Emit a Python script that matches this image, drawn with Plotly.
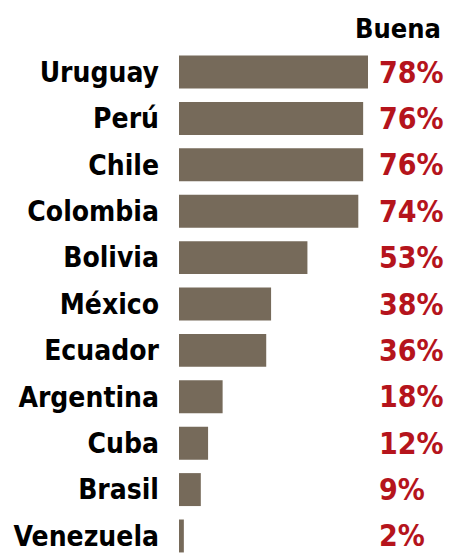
import plotly.graph_objects as go

paises = ["Uruguay", "Perú", "Chile", "Colombia", "Bolivia", "México",
          "Ecuador", "Argentina", "Cuba", "Brasil", "Venezuela"]
buena = [78, 76, 76, 74, 53, 38, 36, 18, 12, 9, 2]

BAR = "#766a5a"
RED = "#b5141c"
FONT = "DejaVu Sans Condensed, Roboto, sans-serif"

fig = go.Figure()
fig.add_bar(
    x=buena, y=paises, orientation="h",
    marker=dict(color=BAR, line=dict(width=0)),
    width=0.71,
)

for p, v in zip(paises, buena):
    fig.add_annotation(
        x=1.048, xref="paper", y=p, yref="y",
        text=f"{v}%", showarrow=False,
        xanchor="left", yanchor="middle",
        font=dict(family=FONT, size=30, color=RED, weight="bold"),
    )

fig.add_annotation(
    x=1.397, xref="paper", y=1 + 21 / 508, yref="paper",
    text="Buena", showarrow=False,
    xanchor="right", yanchor="middle",
    font=dict(family=FONT, size=27, color="black", weight="bold"),
)

fig.update_layout(
    width=450, height=557,
    margin=dict(l=179, r=82, t=49, b=0),
    plot_bgcolor="white", paper_bgcolor="white",
    showlegend=False,
    xaxis=dict(range=[0, 78], visible=False),
    yaxis=dict(
        range=[10.453, -0.496], showgrid=False, zeroline=False,
        ticks="", ticklabelstandoff=19,
        tickfont=dict(family=FONT, size=28, color="black", weight="bold"),
    ),
)

fig.write_html("out.html", config={"displayModeBar": False},
               post_script="document.body.style.margin='0';")
